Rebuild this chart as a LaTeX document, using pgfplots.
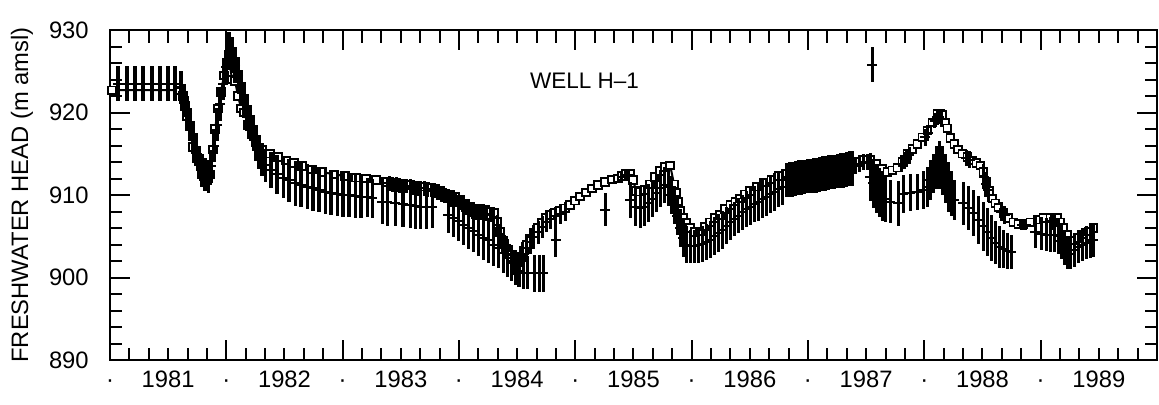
\documentclass[border=0pt]{standalone}
\usepackage{fontspec}
\setmainfont{Liberation Sans}
\usepackage{pgfplots}
\usepackage{pgfplotstable}
\pgfplotsset{compat=1.18}

\pgfplotstableread{
x y
1981.017 922.7
1981.602 922.7
1981.628 922.0
1981.645 920.8
1981.662 919.5
1981.688 918.3
1981.714 915.8
1981.748 914.5
1981.782 913.5
1981.808 912.3
1981.834 911.8
1981.860 912.5
1981.886 915.5
1981.903 918.0
1981.929 920.5
1981.954 922.5
1981.980 924.5
1982.006 926.0
1982.023 926.5
1982.049 924.0
1982.075 923.8
1982.101 922.0
1982.126 920.5
1982.152 920.0
1982.187 918.5
1982.221 917.3
1982.255 916.4
1982.307 915.5
1982.376 915.0
1982.445 914.6
1982.513 914.2
1982.582 913.9
1982.651 913.5
1982.737 913.1
1982.823 912.8
1982.926 912.5
1983.021 912.3
1983.115 912.1
1983.201 912.0
1983.287 911.8
1983.373 911.6
1983.459 911.5
1983.494 911.4
1983.537 911.3
1983.580 911.2
1983.623 911.1
1983.666 911.0
1983.709 911.0
1983.752 910.9
1983.795 910.8
1983.838 910.5
1983.880 910.2
1983.923 910.0
1983.966 909.8
1984.009 909.4
1984.052 909.0
1984.095 908.6
1984.138 908.3
1984.181 908.3
1984.224 908.2
1984.267 908.0
1984.302 907.8
1984.328 906.8
1984.353 905.5
1984.379 904.5
1984.405 903.5
1984.431 902.8
1984.457 902.3
1984.482 901.9
1984.508 902.0
1984.534 902.5
1984.560 903.3
1984.586 904.0
1984.611 904.7
1984.646 905.4
1984.680 906.0
1984.715 906.6
1984.749 907.2
1984.783 907.6
1984.826 907.9
1984.869 908.1
1984.912 908.4
1984.955 908.8
1984.998 909.3
1985.041 909.8
1985.093 910.3
1985.144 910.8
1985.196 911.2
1985.256 911.6
1985.316 911.9
1985.368 912.0
1985.402 912.3
1985.437 912.6
1985.471 912.6
1985.497 911.8
1985.522 910.5
1985.557 910.4
1985.600 910.6
1985.643 911.3
1985.686 912.2
1985.729 912.9
1985.772 913.4
1985.815 913.6
1985.849 911.3
1985.866 910.3
1985.884 909.2
1985.901 908.1
1985.927 907.2
1985.953 906.6
1985.987 906.0
1986.030 905.5
1986.073 905.6
1986.116 906.2
1986.159 906.7
1986.202 907.2
1986.245 907.6
1986.288 908.3
1986.332 908.8
1986.375 909.2
1986.417 909.6
1986.460 910.1
1986.503 910.5
1986.563 911.0
1986.623 911.5
1986.684 911.9
1986.744 912.3
1986.804 912.6
1986.890 912.8
1986.976 913.0
1987.062 913.2
1987.148 913.4
1987.234 913.6
1987.320 913.7
1987.380 913.8
1987.432 914.0
1987.483 914.3
1987.535 914.3
1987.586 913.8
1987.638 913.2
1987.681 912.8
1987.724 913.0
1987.767 913.3
1987.810 914.0
1987.853 915.0
1987.896 915.6
1987.939 916.2
1987.982 917.0
1988.025 917.8
1988.068 918.8
1988.111 919.8
1988.137 919.9
1988.155 919.7
1988.180 918.8
1988.197 918.1
1988.223 916.9
1988.257 916.2
1988.291 915.5
1988.326 915.0
1988.369 914.6
1988.412 914.2
1988.446 913.9
1988.481 913.6
1988.506 912.8
1988.532 911.6
1988.558 910.5
1988.584 909.6
1988.610 909.0
1988.635 908.5
1988.678 907.8
1988.721 907.2
1988.764 906.7
1988.807 906.5
1988.850 906.4
1988.910 906.7
1988.971 907.0
1989.022 907.2
1989.082 907.2
1989.143 907.2
1989.169 906.7
1989.194 906.0
1989.229 905.2
1989.272 904.5
1989.315 904.8
1989.367 905.2
1989.410 905.6
1989.452 906.0
}\simulated

\pgfplotstableread{
x y e
1981.069 923.5 2.1
1981.146 923.5 2.1
1981.215 923.5 2.1
1981.284 923.5 2.1
1981.361 923.5 2.1
1981.430 923.5 2.1
1981.499 923.5 2.1
1981.559 923.5 2.1
1981.610 923.0 2.0
1981.636 921.5 2.0
1981.662 920.0 2.0
1981.688 918.5 2.0
1981.714 917.0 2.0
1981.739 915.5 2.0
1981.765 914.0 2.0
1981.791 913.0 2.0
1981.817 912.5 2.0
1981.843 912.3 2.0
1981.868 913.5 2.0
1981.894 916.0 2.0
1981.920 918.5 2.0
1981.946 921.0 2.0
1981.972 923.5 2.0
1981.997 925.5 2.0
1982.023 927.5 2.3
1982.049 927.0 2.2
1982.075 925.8 2.2
1982.101 924.5 2.2
1982.126 923.0 2.2
1982.152 921.5 2.2
1982.178 920.0 2.2
1982.204 918.7 2.2
1982.230 917.5 2.2
1982.255 916.3 2.2
1982.281 915.2 2.1
1982.307 914.3 2.0
1982.333 913.6 2.0
1982.384 913.0 2.2
1982.436 912.5 2.4
1982.488 912.1 2.5
1982.539 911.8 2.6
1982.591 911.4 2.7
1982.642 911.2 2.7
1982.694 911.0 2.7
1982.745 910.8 2.7
1982.797 910.6 2.7
1982.849 910.4 2.7
1982.900 910.3 2.7
1982.952 910.1 2.7
1983.003 910.0 2.7
1983.055 910.0 2.7
1983.107 909.9 2.7
1983.158 909.8 2.6
1983.210 909.7 2.4
1983.253 909.6 2.4
1983.339 909.2 2.7
1983.382 909.1 2.8
1983.451 909.0 2.8
1983.519 908.9 2.8
1983.580 908.8 2.8
1983.623 908.7 2.8
1983.666 908.6 2.7
1983.717 908.5 2.6
1983.769 908.5 2.5
1983.906 907.6 2.2
1983.949 907.2 2.3
1983.992 906.8 2.4
1984.035 906.4 2.4
1984.078 906.0 2.5
1984.121 905.6 2.5
1984.164 905.2 2.6
1984.207 904.8 2.7
1984.250 904.5 2.7
1984.293 904.0 2.6
1984.336 903.6 2.5
1984.379 903.0 2.4
1984.414 902.4 2.3
1984.448 901.8 2.2
1984.482 901.2 2.1
1984.516 900.8 2.0
1984.551 900.6 2.0
1984.586 900.6 2.0
1984.646 900.5 2.2
1984.689 900.5 2.2
1984.723 900.5 2.2
1983.400 911.4 0.9
1983.430 911.3 0.9
1983.460 911.3 0.9
1983.490 911.2 0.9
1983.520 911.1 0.9
1983.550 911.1 0.9
1983.580 911.0 0.9
1983.610 910.9 0.9
1983.640 910.8 0.9
1983.670 910.8 0.9
1983.700 910.8 0.9
1983.730 910.7 0.9
1983.760 910.6 0.9
1983.790 910.5 0.9
1983.820 910.3 0.9
1983.850 910.1 0.9
1983.880 909.9 0.9
1983.910 909.7 0.9
1983.940 909.5 0.9
1983.970 909.4 0.9
1984.000 909.1 0.9
1984.030 908.8 0.9
1984.060 908.5 0.9
1984.090 908.2 0.9
1984.120 908.0 0.9
1984.150 907.9 0.9
1984.180 907.9 0.9
1984.210 907.8 0.9
1984.240 907.7 0.9
1984.270 907.6 0.9
1984.300 907.3 0.9
1984.330 906.4 1.2
1984.360 905.0 1.3
1984.390 903.8 1.3
1984.420 902.8 1.2
1984.450 902.0 1.2
1984.480 901.5 1.2
1984.510 901.6 1.2
1984.543 902.8 1.5
1984.577 903.6 1.5
1984.611 904.3 1.5
1984.640 904.9 1.5
1984.680 905.5 1.4
1984.715 906.1 1.3
1984.749 906.7 1.2
1984.783 907.1 1.2
1984.826 907.4 1.2
1984.869 907.7 1.2
1984.912 908.0 1.2
1984.830 904.5 2.0
1985.256 908.2 2.0
1985.400 912.2 0.7
1985.430 912.4 0.7
1985.460 912.4 0.7
1985.471 909.4 2.2
1985.514 908.6 2.3
1985.557 908.4 2.4
1985.591 908.6 2.4
1985.626 909.0 2.3
1985.660 909.5 2.2
1985.695 910.2 2.2
1985.729 910.8 2.2
1985.763 911.2 2.2
1985.798 911.0 2.3
1985.824 910.0 2.3
1985.849 908.8 2.3
1985.875 907.4 2.3
1985.901 906.0 2.3
1985.927 904.8 2.3
1985.953 904.0 2.2
1985.987 903.8 2.0
1986.021 903.8 2.0
1986.056 903.9 2.1
1986.090 904.1 2.2
1986.125 904.3 2.2
1986.159 904.6 2.2
1986.193 905.0 2.3
1986.228 905.4 2.3
1986.263 905.8 2.3
1986.297 906.3 2.2
1986.332 906.7 2.2
1986.366 907.1 2.1
1986.400 907.5 2.1
1986.434 907.9 2.1
1986.469 908.3 2.2
1986.503 908.6 2.2
1986.538 908.9 2.2
1986.572 909.2 2.3
1986.606 909.5 2.3
1986.641 909.8 2.3
1986.675 910.1 2.3
1986.709 910.4 2.3
1986.744 910.7 2.2
1986.778 911.0 2.2
1986.813 911.8 2.1
1986.839 911.9 2.1
1986.865 911.9 2.1
1986.890 912.0 2.1
1986.916 912.1 2.1
1986.942 912.1 2.1
1986.968 912.2 2.1
1986.994 912.3 2.1
1987.019 912.3 2.1
1987.045 912.4 2.1
1987.071 912.4 2.1
1987.097 912.5 2.1
1987.123 912.6 2.1
1987.148 912.6 2.1
1987.174 912.7 2.1
1987.200 912.8 2.1
1987.226 912.8 2.1
1987.252 912.9 2.1
1987.278 913.0 2.1
1987.303 913.0 2.1
1987.329 913.1 2.1
1987.355 913.2 2.1
1987.381 913.2 2.1
1987.406 913.6 1.0
1987.440 913.8 1.0
1987.475 914.0 1.0
1987.509 914.0 1.0
1987.535 912.2 2.9
1987.561 911.4 3.0
1987.586 910.8 3.0
1987.612 910.3 3.0
1987.638 909.8 3.0
1987.664 909.5 2.8
1987.552 925.8 2.1
1987.707 909.2 2.6
1987.776 909.0 2.7
1987.819 910.1 2.3
1987.879 910.3 2.2
1987.939 910.4 2.2
1987.991 910.6 2.3
1988.025 911.0 2.4
1988.051 911.8 2.4
1988.077 912.6 2.4
1988.102 913.3 2.6
1988.128 913.6 2.9
1988.154 913.0 3.0
1988.180 912.0 3.0
1988.205 911.0 3.0
1988.231 910.2 2.7
1988.257 909.4 2.4
1988.334 909.0 2.6
1988.378 908.4 2.7
1988.420 907.8 2.8
1988.464 907.0 2.9
1988.506 906.2 3.0
1988.541 905.5 2.9
1988.575 904.8 2.8
1988.610 904.2 2.6
1988.644 903.7 2.5
1988.678 903.4 2.3
1988.713 903.2 2.2
1988.747 903.1 2.1
1987.800 913.8 1.0
1987.830 914.2 1.0
1987.850 914.4 1.0
1987.870 914.8 1.0
1988.010 917.0 1.0
1988.030 917.5 1.0
1988.090 919.0 0.9
1988.110 919.4 0.9
1988.130 919.5 0.9
1988.150 919.2 0.9
1988.360 914.5 1.0
1988.390 914.3 1.0
1988.510 912.2 1.5
1988.530 911.3 1.5
1988.550 910.6 1.4
1988.660 908.0 1.1
1988.690 907.6 1.1
1988.840 906.4 0.7
1988.870 906.4 0.7
1989.090 906.8 1.0
1989.120 906.8 1.0
1988.954 905.5 1.9
1989.005 905.3 2.0
1989.048 905.2 2.0
1989.082 905.2 2.1
1989.117 905.2 2.1
1989.151 905.0 2.1
1989.177 904.4 2.1
1989.203 903.6 2.1
1989.229 903.0 2.0
1989.255 902.9 1.9
1989.289 903.3 2.0
1989.323 903.7 2.0
1989.358 904.0 2.0
1989.392 904.2 2.0
1989.427 904.4 2.0
1989.452 904.5 2.0
}\observed

\begin{document}
\begin{tikzpicture}
\begin{axis}[
  scale only axis,
  width=418.8pt, height=132pt,
  at={(0,0)}, anchor=south west,
  xmin=1981, xmax=1990,
  ymin=890, ymax=930,
  axis line style={line width=1.1pt},
  major tick style={black, line width=0.8pt},
  minor tick style={black, line width=0.8pt},
  major tick length=8pt,
  minor tick length=5pt,
  tick align=inside,
  xtick={1981,1982,...,1989},
  xticklabels={\vphantom{0}·,\vphantom{0}·,\vphantom{0}·,\vphantom{0}·,\vphantom{0}·,\vphantom{0}·,\vphantom{0}·,\vphantom{0}·,\vphantom{0}·},
  minor xtick={1981.16667,1981.33333,1981.5,1981.66667,1981.83333,
    1982.16667,1982.33333,1982.5,1982.66667,1982.83333,
    1983.16667,1983.33333,1983.5,1983.66667,1983.83333,
    1984.16667,1984.33333,1984.5,1984.66667,1984.83333,
    1985.16667,1985.33333,1985.5,1985.66667,1985.83333,
    1986.16667,1986.33333,1986.5,1986.66667,1986.83333,
    1987.16667,1987.33333,1987.5,1987.66667,1987.83333,
    1988.16667,1988.33333,1988.5,1988.66667,1988.83333,
    1989.16667,1989.33333,1989.5,1989.66667,1989.83333},
  extra x ticks={1981.5,1982.5,1983.5,1984.5,1985.5,1986.5,1987.5,1988.5,1989.5},
  extra x tick labels={1981,1982,1983,1984,1985,1986,1987,1988,1989},
  extra x tick style={major tick length=0pt, major tick style={draw=none}},
  ytick={890,900,910,920,930},
  minor ytick={892,894,896,898,902,904,906,908,912,914,916,918,922,924,926,928},
  /pgf/number format/assume math mode=true,
  /pgf/number format/1000 sep={},
  tick label style={font=\fontsize{9.5}{11}\selectfont},
  xticklabel style={yshift=-1pt},
  yticklabel style={xshift=-5pt},
  ylabel={FRESHWATER HEAD (m amsl)},
  every axis y label/.style={at={(axis description cs:-0.084,0.5)}, rotate=90, anchor=center, font=\fontsize{9.5}{11}\selectfont},
  clip=false,
  clip marker paths=true,
]
\addplot[black, line width=0.8pt, mark=square*, mark size=1.5pt,
  mark options={fill=white, line width=0.75pt}]
  table[x=x, y=y]{\simulated};
\addplot[black, only marks, mark=-, mark size=2pt, mark options={line width=0.8pt},
  error bars/.cd, y dir=both, y explicit, error mark=none,
  error bar style={line width=1.25pt}]
  table[x=x, y=y, y error=e]{\observed};
\node[font=\fontsize{9}{10}\selectfont] at (axis cs:1985.08,923.9) {WELL H–1};
\end{axis}
\pgfresetboundingbox
\path (-44pt,-17.6pt) rectangle (419.6pt,144pt);
\end{tikzpicture}
\end{document}
